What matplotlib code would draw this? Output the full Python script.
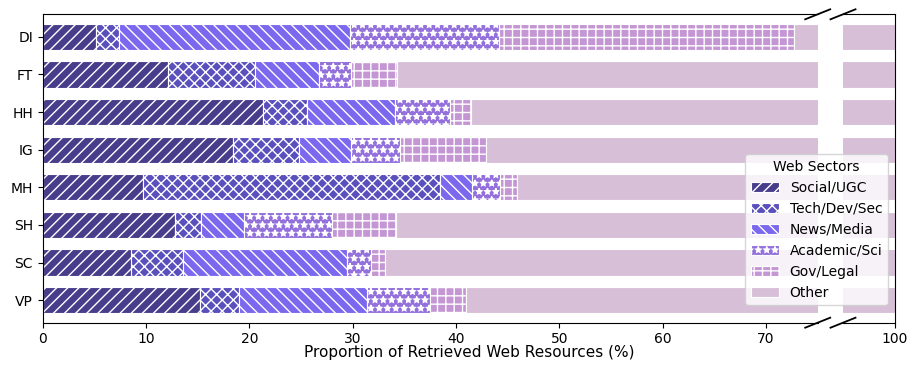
import matplotlib
matplotlib.use("Agg")
from matplotlib import pyplot as plt
import numpy as np

# data (percent of retrieved web resources)
sites = ["DI", "FT", "HH", "IG", "MH", "SH", "SC", "VP"]
sectors = ["Social/UGC", "Tech/Dev/Sec", "News/Media", "Academic/Sci", "Gov/Legal", "Other"]
social = [5.2, 12.1, 21.3, 18.4, 9.7, 12.8, 8.5, 15.2]
tech = [2.2, 8.4, 4.3, 6.4, 28.7, 2.5, 5.1, 3.8]
news = [22.3, 6.2, 8.5, 5.0, 3.1, 4.2, 15.8, 12.4]
academic = [14.5, 3.1, 5.3, 4.8, 2.8, 8.5, 2.4, 6.1]
gov = [28.5, 4.5, 2.0, 8.3, 1.6, 6.2, 1.3, 3.5]
other = [27.3, 65.7, 58.6, 57.1, 54.1, 65.8, 66.9, 59.0]

colors = ["#483d8b", "#5a50bd", "#7b68ee", "#9370db", "#c497d4", "#d8bfd8"]
hatches = ["///", "xxx", "\\\\\\", "**", "++", ""]

W, H = 917, 371
fig = plt.figure(figsize=(W / 100, H / 100), dpi=100)

# broken axis: 0-75 on the left, 95-100 on the right, same scale
top, bot = 14.3, 322.7
x0, x_break, x_right, x1 = 42.7, 817.7, 843.0, 895.0
ax1 = fig.add_axes([x0 / W, 1 - bot / H, (x_break - x0) / W, (bot - top) / H])
ax2 = fig.add_axes([x_right / W, 1 - bot / H, (x1 - x_right) / W, (bot - top) / H], sharey=ax1)

y = np.arange(len(sites))
series = [social, tech, news, academic, gov, other]
handles = []
for ax in (ax1, ax2):
    left = np.zeros(len(sites))
    for name, vals, c, h in zip(sectors, series, colors, hatches):
        b = ax.barh(y, vals, left=left, height=0.7, color=c, hatch=h,
                    edgecolor="white", linewidth=0.8, label=name)
        left += np.array(vals)
        if ax is ax1:
            handles.append(b)

ax1.set_xlim(0, 75)
ax2.set_xlim(95, 100)
ax1.set_ylim(7.6, -0.6)
ax1.set_yticks(y)
ax1.set_yticklabels(sites, fontsize=10)
ax1.set_xticks(np.arange(0, 80, 10))
ax1.tick_params(labelsize=10)
ax2.set_xticks([100])
ax2.tick_params(labelsize=10, left=False, labelleft=False)

ax1.spines["right"].set_visible(False)
ax2.spines["left"].set_visible(False)

# break marks
dx, dy = 12.5, 5.0
for xc in (x_break, x_right):
    for yc in (top, bot):
        fig.add_artist(plt.Line2D([(xc - dx) / W, (xc + dx) / W],
                                  [1 - (yc + dy) / H, 1 - (yc - dy) / H],
                                  color="black", lw=1.3, transform=fig.transFigure,
                                  clip_on=False))

fig.text((x0 + x1) / 2 / W, 1 - 353 / H, "Proportion of Retrieved Web Resources (%)",
         ha="center", va="center", fontsize=11)

fig.legend(handles=handles, labels=sectors, title="Web Sectors", fontsize=10,
           title_fontsize=10, loc="lower right",
           bbox_to_anchor=(895 / W, 1 - 312 / H))

fig.savefig("out.png", dpi=100)
